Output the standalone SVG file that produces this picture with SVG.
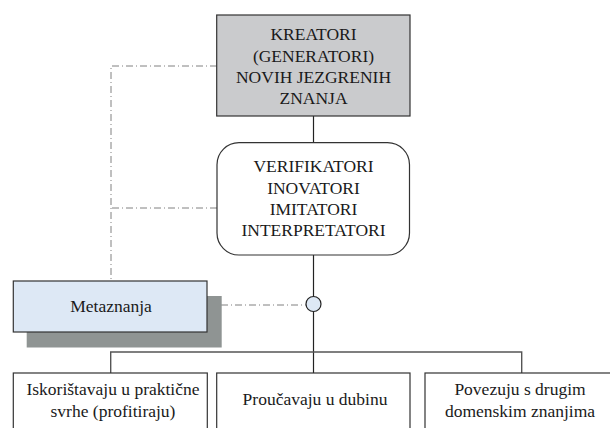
<svg xmlns="http://www.w3.org/2000/svg" width="610" height="428" viewBox="0 0 610 428">
<style>
  .t { font-family: 'Liberation Serif', 'Times New Roman', Times, serif; font-size: 17.5px; fill: #1a1a1a; text-anchor: middle; }
  .box { stroke: #333; stroke-width: 1.2; }
  .line { stroke: #222; stroke-width: 1.2; fill: none; }
  .bar { stroke: #555; stroke-width: 1.4; fill: none; }
  .dash { stroke: #808080; stroke-width: 1; fill: none; stroke-dasharray: 7 3 1 3; }
</style>
<rect width="610" height="428" fill="#ffffff"/>
<g id="connectors">
  <path class="dash" d="M217 66 H111 V281"/>
  <path class="dash" d="M217 208 H111"/>
  <path class="dash" d="M207 305 H306"/>
  <path class="line" d="M313.5 116 V142.7"/>
  <path class="line" d="M313.5 255 V296.5"/>
  <path class="line" d="M313.5 311.5 V373"/>
  <path class="bar" d="M110.7 373 V352 H521.7 V373"/>
</g>
<g id="kreatori" class="t" font-family="Liberation Serif, serif">
  <rect class="box" x="216.7" y="15" width="193.3" height="101" fill="#cacbcd"/>
  <text x="313.5" y="40">KREATORI</text>
  <text x="313.5" y="61.5">(GENERATORI)</text>
  <text x="313.5" y="82.5">NOVIH JEZGRENIH</text>
  <text x="313.5" y="103.5">ZNANJA</text>
</g>
<g id="verifikatori" class="t" font-family="Liberation Serif, serif">
  <rect class="box" x="217" y="142.7" width="192.5" height="112.3" rx="22" ry="22" fill="#ffffff"/>
  <text x="313.5" y="171.5">VERIFIKATORI</text>
  <text x="313.5" y="193.5">INOVATORI</text>
  <text x="313.5" y="214.5">IMITATORI</text>
  <text x="313.5" y="236">INTERPRETATORI</text>
</g>
<g id="metaznanja" class="t" font-family="Liberation Serif, serif">
  <rect x="26.7" y="296" width="195" height="51.5" fill="#8f9493"/>
  <rect class="box" x="13.3" y="281" width="193.7" height="51" fill="#dde8f5"/>
  <text x="111" y="311.5">Metaznanja</text>
</g>
<g id="junction">
  <circle cx="313.5" cy="304" r="7.5" fill="#dde8f5" stroke="#222" stroke-width="1.2"/>
</g>
<g id="iskoristavaju" class="t" font-family="Liberation Serif, serif">
  <rect class="box" x="13.3" y="373" width="194" height="70" fill="#ffffff"/>
  <text x="113" y="395">Iskorištavaju u praktične</text>
  <text x="113" y="416.5">svrhe (profitiraju)</text>
</g>
<g id="proucavaju" class="t" font-family="Liberation Serif, serif">
  <rect class="box" x="216.7" y="373" width="193.3" height="70" fill="#ffffff"/>
  <text x="315" y="405">Proučavaju u dubinu</text>
</g>
<g id="povezuju" class="t" font-family="Liberation Serif, serif">
  <rect class="box" x="425" y="373" width="194" height="70" fill="#ffffff"/>
  <text x="520" y="395">Povezuju s drugim</text>
  <text x="520" y="416.5">domenskim znanjima</text>
</g>
</svg>
